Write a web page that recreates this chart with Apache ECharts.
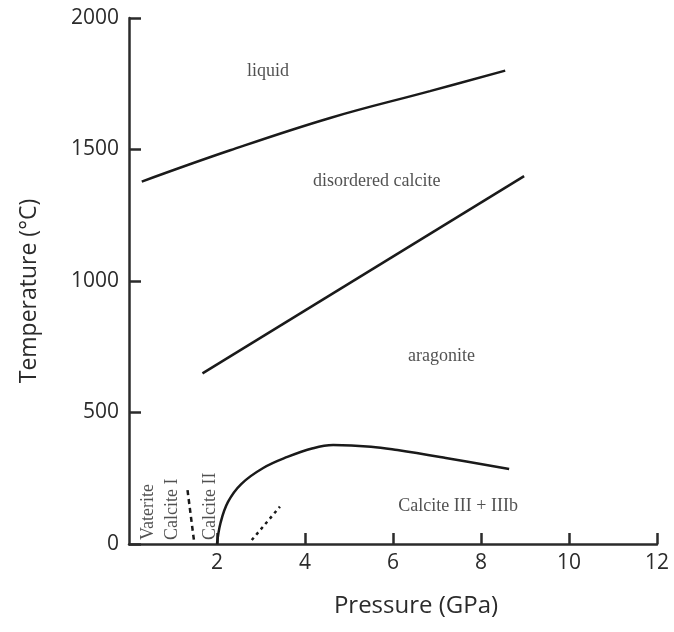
<!DOCTYPE html>
<html>

<head>
  <meta charset="utf-8" />
  <title>CaCO3 phase diagram</title>
  <style>
    body {
      margin: 0;
      background-color: #ffffff;
    }
  </style>
  <script src="https://cdn.jsdelivr.net/npm/echarts@6/dist/echarts.min.js"></script>
</head>

<body>
  <div id="main" style="width: 674px;height:632px;"></div>
  <script type="text/javascript">
    // axis ticks
    var xTicks = [0, 2, 4, 6, 8, 10, 12];
    var yTicks = [0, 500, 1000, 1500, 2000];

    // phase boundaries [pressure GPa, temperature °C]
    var meltingLine = [[0.29, 1378], [2.3, 1497], [4.57, 1620], [6.84, 1722], [8.55, 1800]];
    var disorderLine = [[1.67, 649], [8.98, 1399]];
    var aragoniteLine = [[2.0, 0], [2.08, 80], [2.25, 160], [2.55, 228], [3.05, 289], [3.6, 331],
      [4.18, 364], [4.64, 376], [5.5, 370], [6.1, 357], [7.2, 327], [8.64, 285]];
    var calciteIIILine = [[1.33, 205], [1.48, 9]];
    var dottedLine = [[2.79, 15], [3.43, 142]];

    // region names [text, pressure, temperature]
    var regionNames = [
      ['liquid', 3.16, 1796],
      ['disordered calcite', 5.63, 1378],
      ['aragonite', 7.1, 712],
      ['Calcite III + IIIb', 7.48, 144]
    ];
    // vertical names, anchored at their bottom end
    var verticalNames = [
      ['Vaterite', 0.44, 15],
      ['Calcite I', 0.98, 15],
      ['Calcite II', 1.84, 15]
    ];

    var myChart = echarts.init(document.getElementById('main'));

    var lineColor = '#1a1a1a';
    var axisColor = '#2b2b2b';
    var axisFont = 'Open Sans';
    var labelFont = 'Liberation Serif';

    function boundary(data, type) {
      return {
        type: 'line',
        data: data,
        symbol: 'none',
        smooth: data.length > 2 ? 0.4 : false,
        lineStyle: { color: lineColor, width: 2.5, type: type || 'solid' },
        silent: true
      };
    }

    var option = {
      animation: false,
      grid: { left: 129, right: 17, top: 18, bottom: 88 },
      xAxis: {
        type: 'value',
        min: xTicks[0],
        max: xTicks[xTicks.length - 1],
        interval: xTicks[1] - xTicks[0],
        name: 'Pressure (GPa)',
        nameLocation: 'middle',
        nameGap: 50,
        nameTextStyle: { fontFamily: axisFont, fontSize: 24, color: axisColor, padding: [0, 0, 0, 46] },
        axisLine: { lineStyle: { color: axisColor, width: 2.5 } },
        axisTick: { inside: true, length: 11, lineStyle: { color: axisColor, width: 2.5 } },
        axisLabel: { showMinLabel: false, fontFamily: axisFont, fontSize: 21, color: axisColor, margin: 9 },
        splitLine: { show: false }
      },
      yAxis: {
        type: 'value',
        min: yTicks[0],
        max: yTicks[yTicks.length - 1],
        interval: yTicks[1] - yTicks[0],
        name: 'Temperature (°C)',
        nameLocation: 'middle',
        nameGap: 88,
        nameTextStyle: { fontFamily: axisFont, fontSize: 23, color: axisColor, padding: [0, 20, 0, 0] },
        axisLine: { lineStyle: { color: axisColor, width: 2.5 } },
        axisTick: { inside: true, length: 12, lineStyle: { color: axisColor, width: 2.5 } },
        axisLabel: {
          fontFamily: axisFont, fontSize: 21, color: axisColor, margin: 10,
          formatter: function (v) { return String(v); }
        },
        splitLine: { show: false }
      },
      series: [
        boundary(meltingLine),
        boundary(disorderLine),
        boundary(aragoniteLine),
        boundary(calciteIIILine, [5, 4]),
        boundary(dottedLine, [3, 4]),
        {
          type: 'scatter',
          symbolSize: 0,
          silent: true,
          data: regionNames.map(function (d) { return { name: d[0], value: [d[1], d[2]] }; }),
          label: {
            show: true,
            position: 'inside',
            formatter: '{b}',
            fontFamily: labelFont,
            fontSize: 18,
            color: '#262626'
          }
        },
        {
          type: 'scatter',
          symbolSize: 0,
          silent: true,
          data: verticalNames.map(function (d) { return { name: d[0], value: [d[1], d[2]] }; }),
          label: {
            show: true,
            position: 'inside',
            rotate: 90,
            align: 'left',
            verticalAlign: 'middle',
            formatter: '{b}',
            fontFamily: labelFont,
            fontSize: 18,
            color: '#262626'
          }
        }
      ]
    };
    myChart.setOption(option);
  </script>
</body>

</html>
